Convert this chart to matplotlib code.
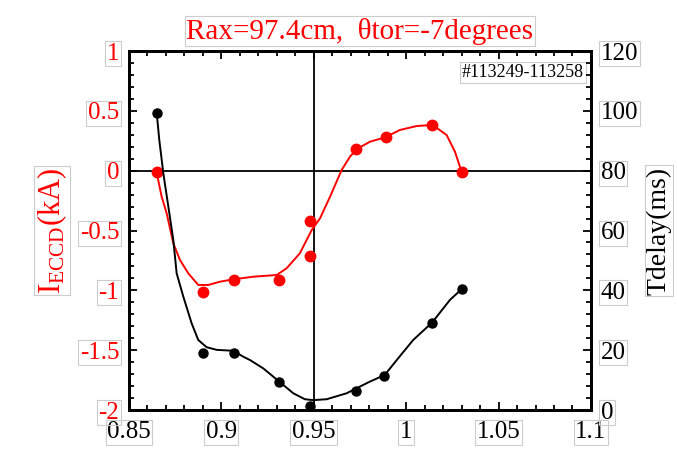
import numpy as np
import matplotlib
matplotlib.use('Agg')
from matplotlib import pyplot as plt
from matplotlib.ticker import MultipleLocator

plt.rcParams['font.family'] = ['Liberation Serif', 'DejaVu Serif']
plt.rcParams['mathtext.fontset'] = 'custom'
plt.rcParams['mathtext.rm'] = 'Liberation Serif'
plt.rcParams['mathtext.it'] = 'Liberation Serif'

# 测量点 (Rax)
x_red = [0.865, 0.890, 0.907, 0.931, 0.948, 0.948, 0.973, 0.989, 1.014, 1.030]
i_eccd = [-0.01, -1.01, -0.91, -0.91, -0.42, -0.71, 0.18, 0.28, 0.38, -0.01]

x_black = [0.865, 0.890, 0.907, 0.931, 0.948, 0.973, 0.988, 1.014, 1.030]
tdelay = [99.4, 19.2, 19.2, 9.5, 1.3, 6.5, 11.4, 29.2, 40.4]

# 平滑曲线
red_fit_x = [0.8650, 0.8677, 0.8704, 0.8740, 0.8776, 0.8821, 0.8875, 0.8929, 0.8992,
             0.9064, 0.9173, 0.9299, 0.9353, 0.9425, 0.9489, 0.9534, 0.9588, 0.9651,
             0.9696, 0.9732, 0.9804, 0.9887, 0.9966, 1.0057, 1.0143, 1.0219, 1.0264,
             1.0291, 1.0300]
red_fit_y = [-0.017, -0.218, -0.356, -0.607, -0.746, -0.858, -0.955, -0.955, -0.928,
             -0.908, -0.886, -0.872, -0.816, -0.690, -0.496, -0.398, -0.218, 0.006,
             0.117, 0.179, 0.242, 0.279, 0.340, 0.373, 0.382, 0.298, 0.159,
             0.033, -0.017]

black_fit_x = [0.8650, 0.8664, 0.8686, 0.8713, 0.8740, 0.8758, 0.8794, 0.8839, 0.8875,
               0.8920, 0.8975, 0.9064, 0.9119, 0.9155, 0.9227, 0.9313, 0.9389, 0.9452,
               0.9497, 0.9570, 0.9678, 0.9804, 0.9884, 0.9949, 1.0038, 1.0140, 1.0237,
               1.0300]
black_fit_y = [99.4, 90.3, 79.1, 68.0, 56.8, 45.7, 37.9, 29.0, 23.4,
               21.0, 20.1, 19.8, 17.8, 16.7, 13.9, 9.5, 5.6, 3.6,
               3.3, 3.6, 5.6, 9.5, 11.7, 16.7, 23.4, 29.2, 36.8,
               40.4]

box = dict(facecolor='none', edgecolor='#cccccc', linewidth=0.8, pad=1.0)

fig = plt.figure(figsize=(6.77, 4.55), dpi=100)
ax = fig.add_axes([0.1905, 0.0989, 0.6824, 0.789])
ax2 = ax.twinx()

ax.set_xlim(0.85, 1.1)
ax.set_ylim(-2, 1)
ax2.set_ylim(0, 120)

# 参考线
ax.axhline(0, color='black', lw=1.3, zorder=1)
ax.axvline(0.95, color='black', lw=1.3, zorder=1)

ax.plot(red_fit_x, red_fit_y, color='red', lw=1.4, zorder=3)
ax.plot(x_red, i_eccd, 'o', color='red', ms=7.5, zorder=4)
ax2.plot(black_fit_x, black_fit_y, color='black', lw=1.4, zorder=3)
ax2.plot(x_black, tdelay, 'o', color='black', ms=6.5, zorder=4)

ax.xaxis.set_minor_locator(MultipleLocator(0.01))
ax.yaxis.set_minor_locator(MultipleLocator(0.1))
ax2.yaxis.set_major_locator(MultipleLocator(20))
ax2.yaxis.set_minor_locator(MultipleLocator(4))

ax.set_xticks([0.85, 0.9, 0.95, 1.0, 1.05, 1.1])
ax.set_xticklabels(['0.85', '0.9', '0.95', '1', '1.05', '1.1'])
ax.set_yticks([-2, -1.5, -1, -0.5, 0, 0.5, 1])
ax.set_yticklabels(['-2', '-1.5', '-1', '-0.5', '0', '0.5', '1'])

ax.tick_params(axis='x', which='both', direction='in', top=True, labelsize=18, pad=8)
ax.tick_params(axis='x', which='major', length=6, width=1.3)
ax.tick_params(axis='x', which='minor', length=3.5, width=1.3)
ax.tick_params(axis='y', which='both', direction='in', labelsize=18, labelcolor='red', pad=7)
ax.tick_params(axis='y', which='major', length=6, width=1.3)
ax.tick_params(axis='y', which='minor', length=3.5, width=1.3)
ax2.tick_params(axis='y', which='both', direction='in', labelsize=18, pad=7)
ax2.tick_params(axis='y', which='major', length=6, width=1.3)
ax2.tick_params(axis='y', which='minor', length=3.5, width=1.3)

for sp in ax2.spines.values():
    sp.set_linewidth(2.0)
for sp in ax.spines.values():
    sp.set_linewidth(2.0)

for lbl in ax.get_xticklabels() + ax.get_yticklabels() + ax2.get_yticklabels():
    lbl.set_bbox(box)

ax.set_ylabel(r'I$_{\mathrm{ECCD}}$(kA)', color='red', fontsize=22, labelpad=8, bbox=box)
ax2.set_ylabel('Tdelay(ms)', fontsize=20, labelpad=6, bbox=box)
ax.set_title('Rax=97.4cm,  \u03b8tor=-7degrees', color='red', fontsize=21, pad=9, bbox=box)

ax.text(0.985, 0.94, '#113249-113258', transform=ax.transAxes, ha='right', va='center',
        fontsize=13, bbox=dict(facecolor='white', edgecolor='#cccccc', linewidth=0.8, pad=1.5),
        zorder=5)

fig.savefig('out.png', dpi=100)
